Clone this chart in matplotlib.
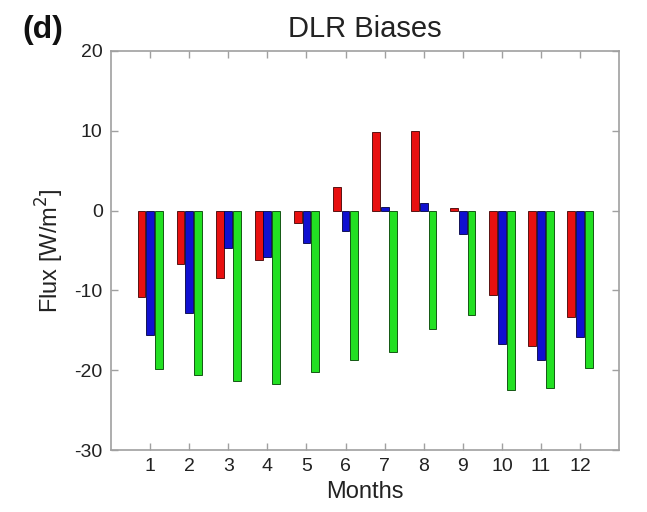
import numpy as np
import matplotlib
matplotlib.use('Agg')
import matplotlib.pyplot as plt

plt.rcParams['font.family'] = ['Liberation Sans', 'DejaVu Sans']
plt.rcParams['axes.unicode_minus'] = False

months = np.arange(1, 13)
month_labels = [str(m) for m in months]

# DLR bias per month for three data sets (W/m^2)
bias_red = [-10.8, -6.7, -8.5, -6.2, -1.5, 2.9, 9.8, 10.0, 0.3, -10.6, -17.0, -13.3]
bias_blue = [-15.6, -12.8, -4.7, -5.8, -4.0, -2.5, 0.5, 0.9, -2.9, -16.7, -18.7, -15.8]
bias_green = [-19.9, -20.6, -21.4, -21.7, -20.2, -18.7, -17.7, -14.8, -13.1, -22.5, -22.2, -19.7]

fig = plt.figure(figsize=(6.47, 5.12), dpi=100)
ax = fig.add_axes([0.1716, 0.121, 0.7854, 0.7794])

width = 0.2
offset = 0.2222
ax.bar(months - offset, bias_red, width, color='#e81010', edgecolor='#400000', linewidth=0.6)
ax.bar(months, bias_blue, width, color='#1010d0', edgecolor='#000040', linewidth=0.6)
ax.bar(months + offset, bias_green, width, color='#22e022', edgecolor='#004000', linewidth=0.6)

ax.set_xlim(0, 13)
ax.set_ylim(-30, 20)
ax.set_xticks(months)
ax.set_xticklabels(month_labels)
ax.set_yticks([-30, -20, -10, 0, 10, 20])

for s in ax.spines.values():
    s.set_color('#a0a0a0')
    s.set_linewidth(1.2)
ax.tick_params(direction='in', top=True, right=True, length=5, width=1,
               color='#a0a0a0', labelsize=14, labelcolor='#222222', pad=6)

ax.set_xlabel('Months', fontsize=17, color='#222222', labelpad=4)
ax.set_ylabel('Flux [W/m$^2$]', fontsize=17, color='#222222', labelpad=6)
ax.set_title('DLR Biases', fontsize=21, color='#222222', pad=10)
fig.text(0.034, 0.925, '(d)', fontsize=23, fontweight='bold', color='#111111')

fig.savefig('out.png', dpi=100)
